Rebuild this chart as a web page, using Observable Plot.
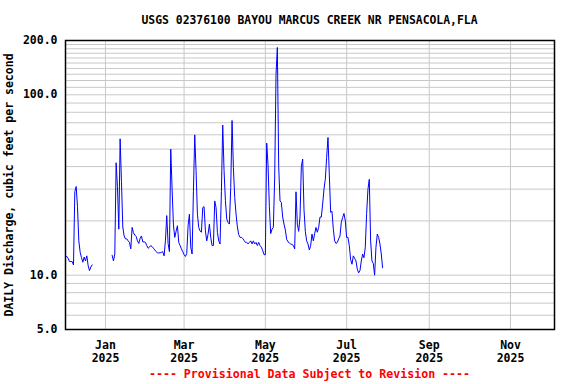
<!DOCTYPE html>
<html>
<head>
<meta charset="utf-8">
<script src="https://cdn.jsdelivr.net/npm/d3@7"></script>
<script src="https://cdn.jsdelivr.net/npm/@observablehq/plot@0.6"></script>
<style>
  body { margin: 0; background: #fff; }
  #wrap { width: 576px; height: 384px; font-family: "DejaVu Sans Mono", monospace; font-weight: bold; }
  #title { height: 34px; box-sizing: border-box; padding-top: 13px; margin-left: 65px; width: 489px;
           font-size: 11.4px; line-height: 14px; text-align: center; color: #000; white-space: nowrap; }
  #chart svg { display: block; }
  #footer { height: 20px; margin-left: 65px; width: 489px; font-size: 11.6px; line-height: 20px;
            text-align: center; color: #ff0000; white-space: nowrap; }
</style>
</head>
<body>
<div id="wrap">
  <div id="title"></div>
  <div id="chart"></div>
  <div id="footer"></div>
</div>
<script>
// ---- Data ----
const titleText = "USGS 02376100 BAYOU MARCUS CREEK NR PENSACOLA,FLA";
const yLabel = "DAILY Discharge, cubic feet per second";
const footerText = "---- Provisional Data Subject to Revision ----";

// Daily discharge, first segment starting 2024-12-02
const seg1Start = "2024-12-02";
const seg1Values = [12.7, 12.7, 12.4, 11.9, 11.9, 11.9, 11.4, 29, 31, 24, 15.5, 13.4, 12.5, 11.8, 12.6, 12.0, 12.8, 11.3, 10.6, 11.1, 11.4];

// Second segment starting 2025-01-06
const seg2Start = "2025-01-06";
const janValues = [12.9, 12.0, 13.1, 42, 31, 18, 57, 33, 18.5, 16.5, 15.9, 15.9, 15.5, 15.2, 14.0, 18.4, 17.2, 16.7, 16.4, 15.5, 15.0, 16.0, 16.5, 15.3, 15.3, 15.2];
const febValues = [14.6, 14.1, 14.3, 14.6, 14.4, 14.1, 13.8, 13.5, 13.3, 13.3, 13.3, 13.4, 13.5, 12.8, 15.5, 21.4, 15.0, 13.5, 50, 30, 19, 16.2, 17.5, 18.8, 15.2, 14.6, 14.0, 13.5];
const marValues = [13.0, 12.7, 13.2, 18.8, 21.8, 14.3, 13.1, 29, 60, 38, 21.8, 18.4, 17.6, 17.3, 23.7, 24, 17.6, 15.5, 16.9, 19.2, 16.2, 14.6, 14.6, 25.8, 23.7, 17.3, 15.5, 14.9, 29, 68, 38];
const aprValues = [26, 20.5, 19.6, 19.2, 30.6, 72, 39.6, 27, 21.8, 18.5, 16.8, 16.2, 16.2, 16.0, 15.6, 15.2, 15.2, 14.9, 15.2, 15.5, 14.9, 15.5, 14.9, 15.2, 14.6, 15.2, 14.6, 14.3, 13.7, 13.0];
const mayValues = [13.0, 54, 41, 24, 17, 18.0, 18.4, 35, 130, 183, 40, 25.8, 25.3, 21, 19.2, 17.8, 15.8, 15.3, 15.1, 14.9, 14.8, 14.6, 14.0, 29, 19.2, 17.5, 21, 40, 44, 23, 17.5];
const junValues = [15.5, 14.9, 13.8, 14.6, 16.9, 15.5, 17.0, 18.4, 17.3, 18.4, 21, 21, 24.8, 30, 34, 45, 58, 36, 22.3, 22.6, 18, 15.5, 15.0, 15.2, 15.9, 16.5, 19.6, 20.9, 22, 20];
const julValues = [16.2, 16.2, 14.6, 12.2, 11.5, 12.8, 12.4, 12.0, 10.8, 10.3, 10.6, 12.0, 13.1, 12.5, 14.3, 22, 30, 34, 15.5, 12.0, 11.6, 10.0, 14.3, 16.9, 16.2, 14.9, 13.1, 11.0];

// Axes
const xDomain = ["2024-12-02", "2025-12-04"];
const xTicks = ["2025-01-01", "2025-03-01", "2025-05-01", "2025-07-01", "2025-09-01", "2025-11-01"];
const xTickLabels = ["Jan\n2025", "Mar\n2025", "May\n2025", "Jul\n2025", "Sep\n2025", "Nov\n2025"];
const yDomain = [5, 200];
const yTicks = [5, 10, 100, 200];
const yGrid = [6, 7, 8, 9, 10, 20, 30, 40, 50, 60, 70, 80, 90, 100, 110, 120, 130, 140, 150, 160, 170, 180, 190];

// ---- Build table ----
const parse = s => new Date(s + "T00:00:00Z");
function segment(start, values) {
  const t0 = parse(start);
  return values.map((v, i) => ({date: d3.utcDay.offset(t0, i), value: v}));
}
const seg1 = segment(seg1Start, seg1Values);
const seg2 = segment(seg2Start, [...janValues, ...febValues, ...marValues, ...aprValues, ...mayValues, ...junValues, ...julValues]);
const gap = {date: d3.utcDay.offset(seg1[seg1.length - 1].date, 1), value: NaN};
const data = [...seg1, gap, ...seg2];

const xTickDates = xTicks.map(parse);
const labelFor = new Map(xTickDates.map((d, i) => [+d, xTickLabels[i]]));

document.getElementById("title").textContent = titleText;
document.getElementById("footer").textContent = footerText;

const chart = Plot.plot({
  width: 576,
  height: 330,
  marginTop: 6,
  marginBottom: 35,
  marginLeft: 65,
  marginRight: 22,
  style: {fontFamily: "'DejaVu Sans Mono', monospace", fontWeight: "bold", fontSize: "11.5px", color: "#000", background: "#fff"},
  x: {type: "utc", domain: xDomain.map(parse)},
  y: {type: "log", domain: yDomain},
  marks: [
    Plot.ruleY(yGrid, {stroke: "#c8c8c8", strokeWidth: 1}),
    Plot.ruleX(xTickDates, {stroke: "#c8c8c8", strokeWidth: 1}),
    Plot.line(data, {x: "date", y: "value", stroke: "#0000ff", strokeWidth: 1}),
    Plot.frame({stroke: "#000", strokeWidth: 1.5}),
    Plot.axisY(yTicks, {
      tickSize: 0, tickPadding: 8, tickFormat: d => d.toFixed(1),
      label: yLabel, labelAnchor: "center", labelArrow: "none", labelOffset: 60.5,
      fill: "#000"
    }),
    Plot.axisX(xTickDates, {
      tickSize: 0, tickPadding: 10, tickFormat: d => labelFor.get(+d), lineHeight: 1.13,
      label: null, fill: "#000"
    })
  ]
});
document.getElementById("chart").appendChild(chart);
</script>
</body>
</html>
